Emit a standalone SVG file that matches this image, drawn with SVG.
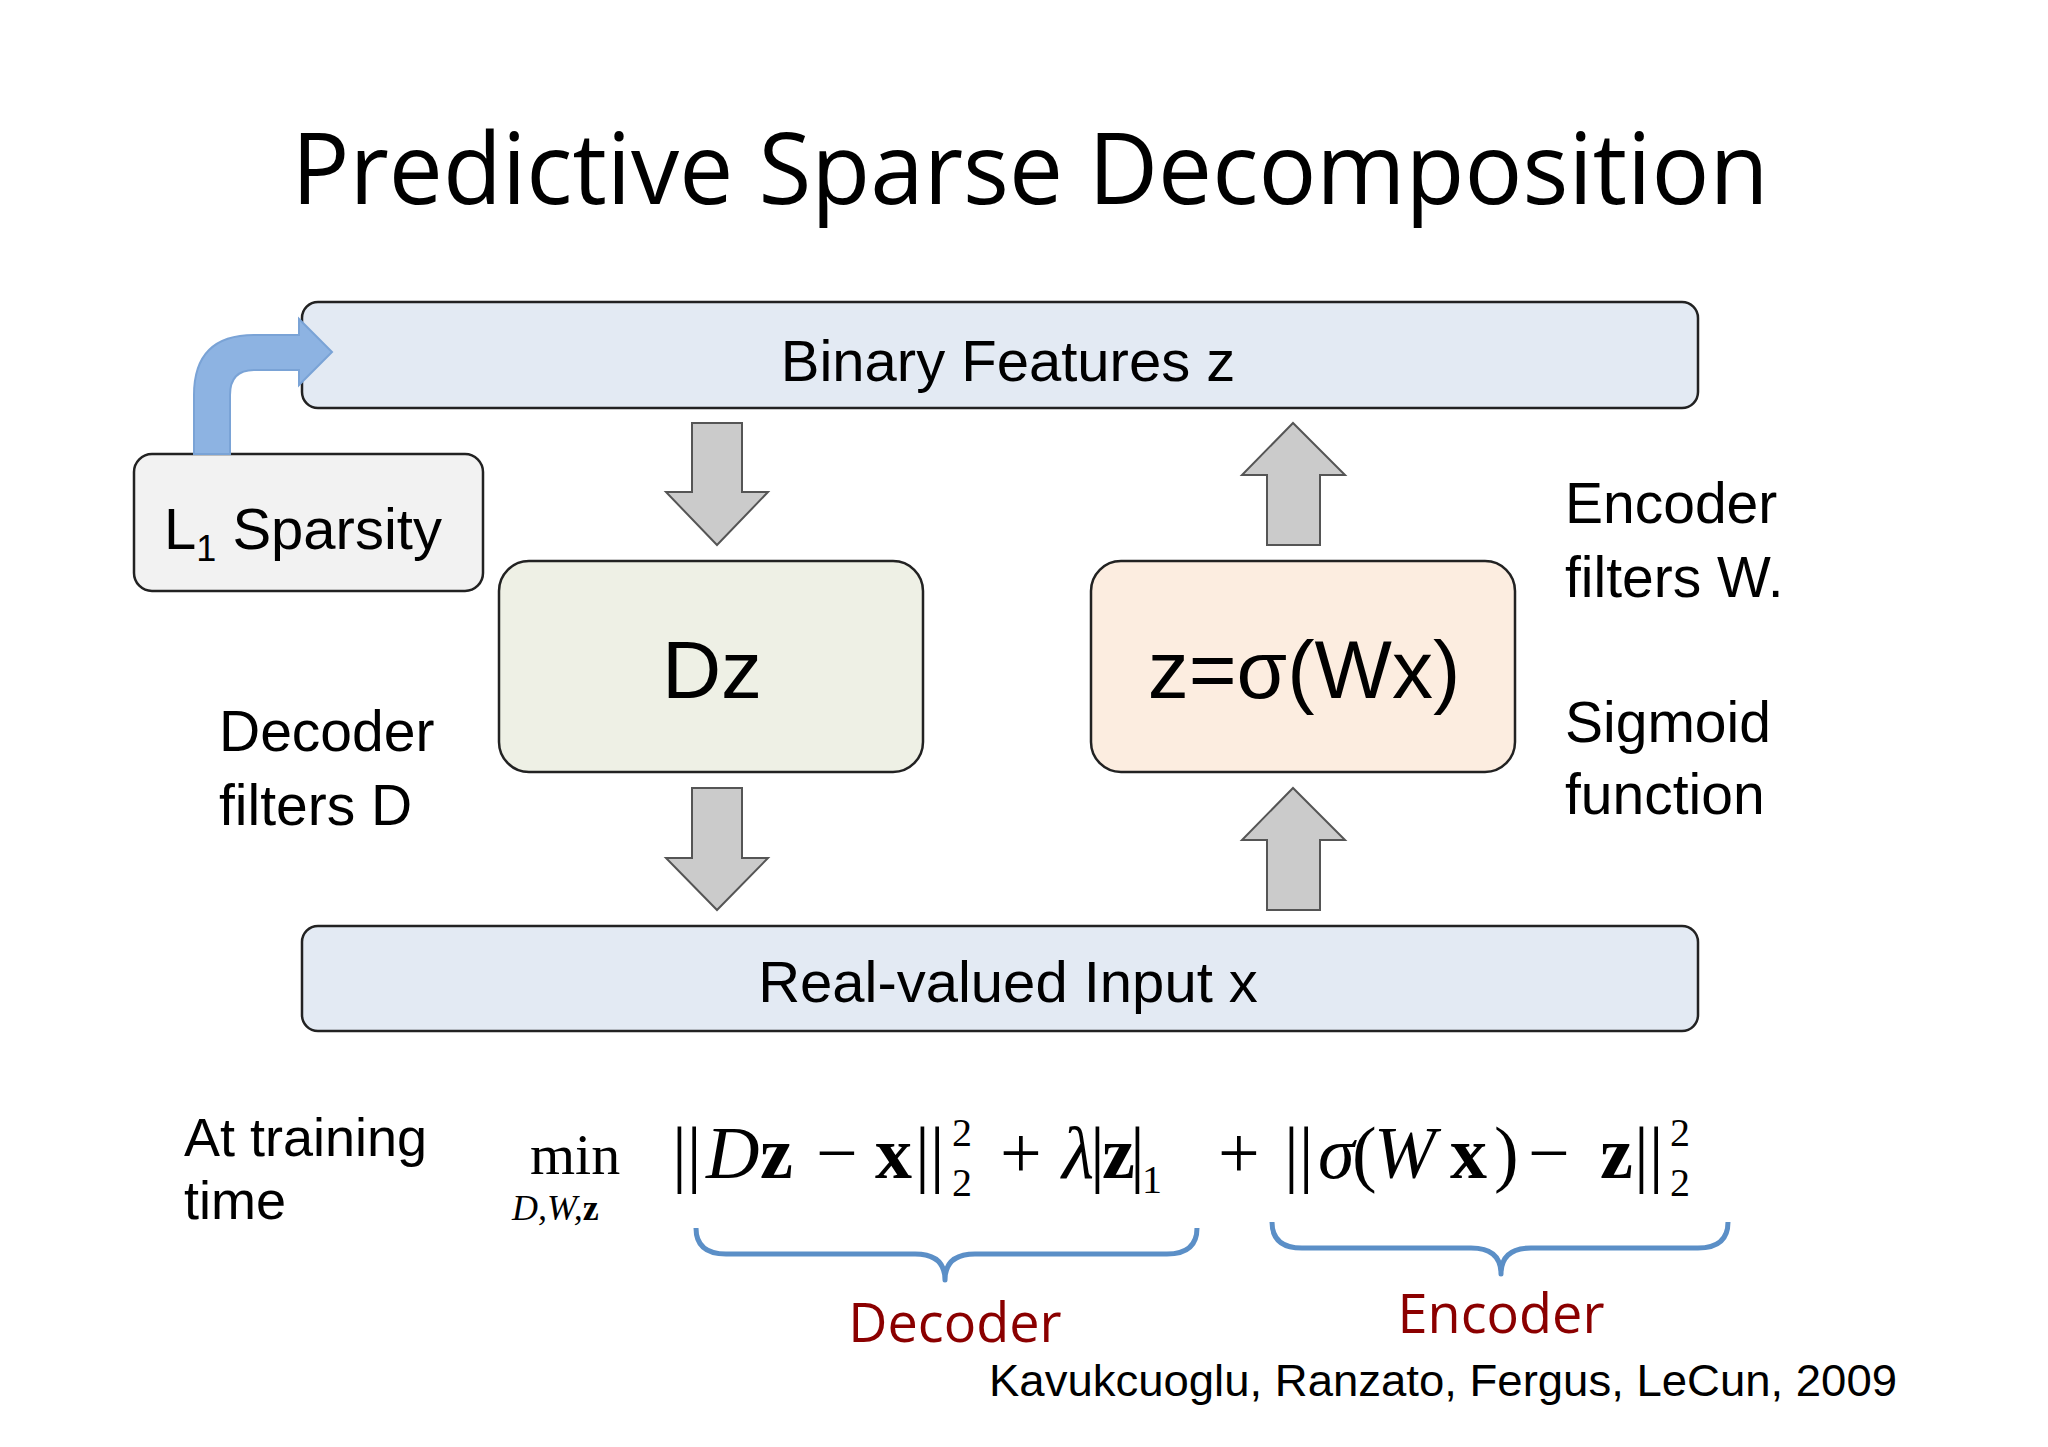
<svg xmlns="http://www.w3.org/2000/svg" width="2048" height="1447" viewBox="0 0 2048 1447">
<style>
.s{font-family:"Liberation Sans",Arial,sans-serif;fill:#000}
.box{stroke:#222;stroke-width:2.5}
.ga{fill:#cbcbcb;stroke:#555;stroke-width:2}
.m{font-family:"Liberation Serif","Times New Roman",serif}
.i{font-style:italic}.b{font-weight:bold}
.sm{font-size:40px}
.br{fill:none;stroke:#5b8fc7;stroke-width:5;stroke-linejoin:round}
.red{font-family:"Open Sans",sans-serif;font-size:54px;fill:#8b0000}
</style>
<rect width="2048" height="1447" fill="#fff"/>
<text x="1030" y="204" text-anchor="middle" font-family="Open Sans, sans-serif" font-size="98" textLength="1477" lengthAdjust="spacingAndGlyphs">Predictive Sparse Decomposition</text>
<g id="binary"><rect class="box" x="302" y="302" width="1396" height="106" rx="16" fill="#e3eaf3"/><text class="s" x="1008" y="381" font-size="58" text-anchor="middle">Binary Features z</text></g>
<g id="input"><rect class="box" x="302" y="926" width="1396" height="105" rx="16" fill="#e3eaf3"/><text class="s" x="1008" y="1002" font-size="58" text-anchor="middle">Real-valued Input x</text></g>
<g id="l1"><rect class="box" x="134" y="454" width="349" height="137" rx="18" fill="#f2f2f2"/><text class="s" x="164" y="549" font-size="58">L<tspan font-size="36" dy="12">1</tspan><tspan dy="-12"> Sparsity</tspan></text></g>
<g id="dz"><rect class="box" x="499" y="561" width="424" height="211" rx="30" fill="#eef0e5"/><text class="s" x="712" y="698" font-size="82" text-anchor="middle">Dz</text></g>
<g id="enc"><rect class="box" x="1091" y="561" width="424" height="211" rx="30" fill="#fcede0"/><text class="s" x="1304" y="698" font-size="82" text-anchor="middle">z=σ(Wx)</text></g>
<g id="connectors">
<path d="M194,454 V395 Q194,335 254,335 H299 V319 L332,352 L299,385 V370 H254 Q230,370 230,395 V454 Z" fill="#8db3e2" stroke="#7aa3d6" stroke-width="2"/>
<path class="ga" d="M692,423 H742 V492 H768 L717,545 L666,492 H692 Z"/>
<path class="ga" d="M692,788 H742 V858 H768 L717,910 L666,858 H692 Z"/>
<path class="ga" d="M1267,545 H1320 V475 H1345 L1293,423 L1242,475 H1267 Z"/>
<path class="ga" d="M1267,910 H1320 V840 H1345 L1293,788 L1242,840 H1267 Z"/>
</g>
<g class="s" font-size="57">
<text x="1565" y="523">Encoder</text><text x="1565" y="597">filters W.</text>
<text x="1565" y="742">Sigmoid</text><text x="1565" y="814">function</text>
<text x="219" y="751">Decoder</text><text x="219" y="825">filters D</text>
<text x="184" y="1156" font-size="54">At training</text><text x="184" y="1219" font-size="54">time</text>
</g>
<text class="m" x="530" y="1174" font-size="58">min</text>
<text class="m i" x="512" y="1220" font-size="36">D,W,<tspan class="b" font-style="normal">z</tspan></text>
<text class="m" font-size="74"><tspan x="672" y="1178">||</tspan><tspan class="i" x="706">D</tspan><tspan class="b" x="760">z</tspan><tspan x="816">−</tspan><tspan class="b" x="875">x</tspan><tspan x="915">||</tspan><tspan class="sm" x="952" y="1146">2</tspan><tspan class="sm" x="952" y="1196">2</tspan><tspan x="1000" y="1178">+</tspan><tspan class="i" x="1062">λ</tspan><tspan x="1090">|</tspan><tspan class="b" x="1102">z</tspan><tspan x="1130">|</tspan><tspan class="sm" x="1142" y="1193">1</tspan><tspan x="1218" y="1178">+</tspan><tspan x="1284">||</tspan><tspan class="i" x="1318">σ</tspan><tspan x="1352">(</tspan><tspan class="i" x="1374">W</tspan><tspan class="b" x="1450">x</tspan><tspan x="1494">)</tspan><tspan x="1528">−</tspan><tspan class="b" x="1600">z</tspan><tspan x="1634">||</tspan><tspan class="sm" x="1670" y="1146">2</tspan><tspan class="sm" x="1670" y="1196">2</tspan></text>
<path class="br" d="M696,1228 Q696,1254 726,1254 H915 Q945,1254 945,1280 Q945,1254 975,1254 H1167 Q1197,1254 1197,1228"/>
<path class="br" d="M1272,1222 Q1272,1248 1302,1248 H1471 Q1501,1248 1501,1274 Q1501,1248 1531,1248 H1698 Q1728,1248 1728,1222"/>
<text class="red" x="955" y="1342" text-anchor="middle">Decoder</text>
<text class="red" x="1501" y="1333" text-anchor="middle">Encoder</text>
<text class="s" x="989" y="1396" font-size="44" textLength="908" lengthAdjust="spacingAndGlyphs">Kavukcuoglu, Ranzato, Fergus, LeCun, 2009</text>
</svg>
